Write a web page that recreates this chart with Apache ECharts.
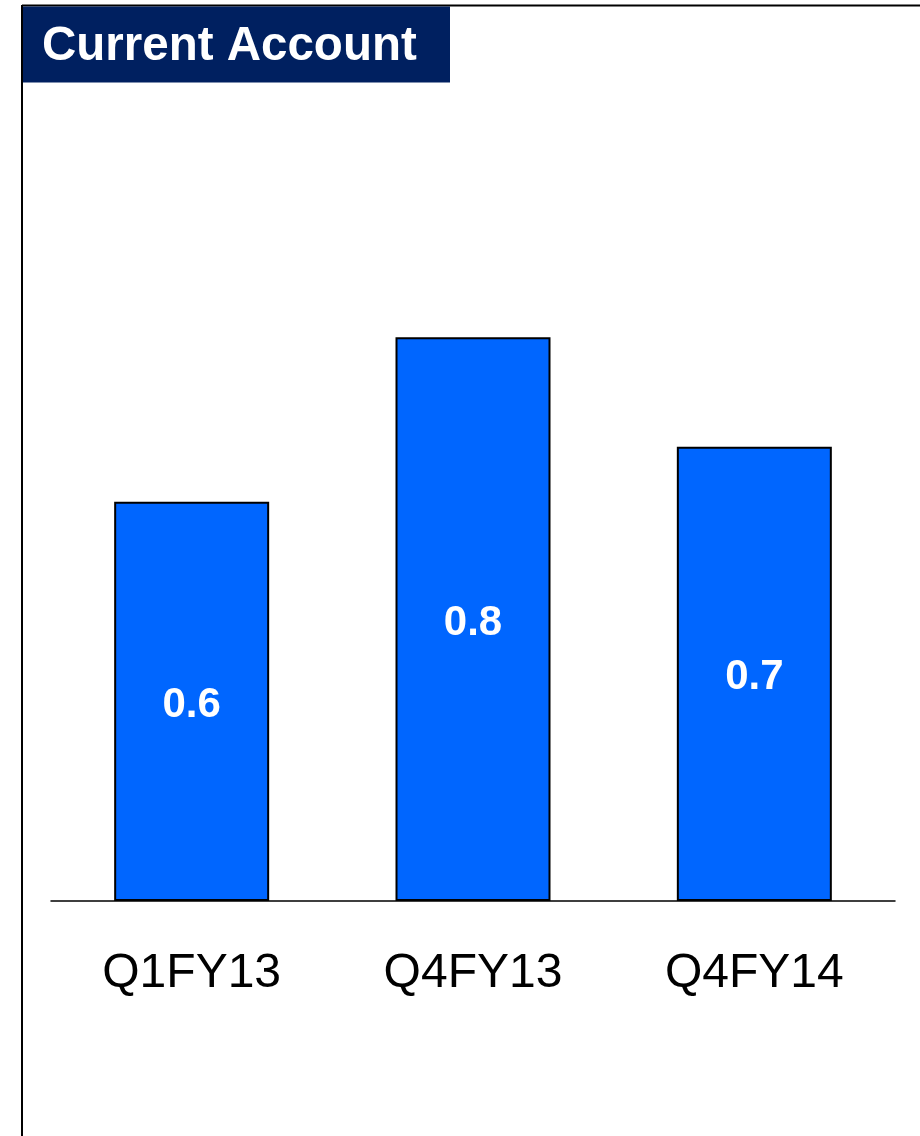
<!DOCTYPE html>
<html>
<head>
<meta charset="utf-8">
<script src="https://cdn.jsdelivr.net/npm/echarts@6/dist/echarts.min.js"></script>
<style>
html,body{margin:0;padding:0;background:#fff;}
#chart{width:920px;height:1136px;}
</style>
</head>
<body>
<div id="chart"></div>
<script>
var categories = ['Q1FY13', 'Q4FY13', 'Q4FY14'];
var values = [0.595, 0.84, 0.677];
var title = 'Current Account';

var chart = echarts.init(document.getElementById('chart'), null, {renderer: 'canvas'});
chart.setOption({
  animation: false,
  backgroundColor: '#ffffff',
  grid: {left: 51, right: 25, top: 230, bottom: 235},
  xAxis: {
    type: 'category',
    data: categories,
    axisTick: {show: false},
    axisLine: {lineStyle: {color: '#000', width: 1.5}},
    axisLabel: {color: '#000', fontSize: 48, fontFamily: 'Arial, Liberation Sans', margin: 49, lineHeight: 48}
  },
  yAxis: {
    type: 'value', min: 0, max: 1, show: false,
    splitLine: {show: false}
  },
  series: [{
    type: 'bar',
    data: values,
    barWidth: 155,
    itemStyle: {color: '#0066FF', borderColor: '#000', borderWidth: 2},
    label: {
      show: true, position: 'inside', offset: [0, 4], color: '#fff', fontWeight: 'bold',
      fontSize: 42, fontFamily: 'Arial, Liberation Sans',
      formatter: function (p) { return p.value.toFixed(1); }
    }
  }],
  graphic: [
    {type: 'line', shape: {x1: 22, y1: 5.5, x2: 920, y2: 5.5}, style: {stroke: '#000', lineWidth: 2}, silent: true},
    {type: 'line', shape: {x1: 22, y1: 5, x2: 22, y2: 1136}, style: {stroke: '#000', lineWidth: 2}, silent: true},
    {type: 'rect', shape: {x: 23, y: 6.5, width: 427, height: 76}, style: {fill: '#002060'}, silent: true},
    {type: 'text', x: 42, y: 47, style: {text: title, fill: '#fff', font: 'bold 47.5px Arial, Liberation Sans', textVerticalAlign: 'middle', verticalAlign: 'middle'}, silent: true}
  ]
});
</script>
</body>
</html>
